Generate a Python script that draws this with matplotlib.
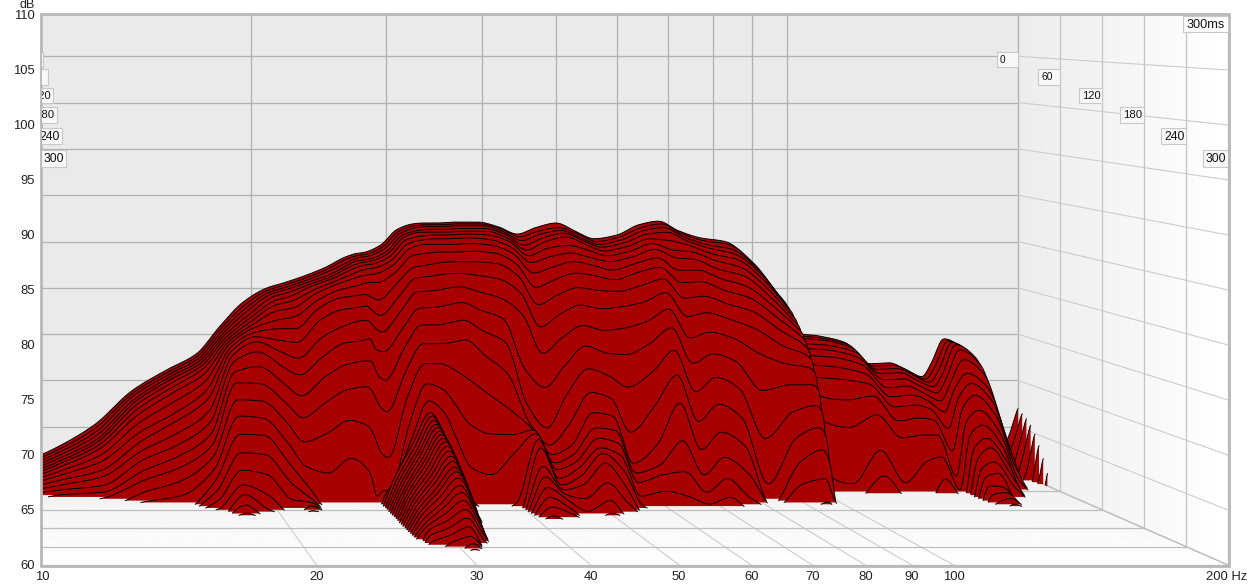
import numpy as np
import matplotlib
matplotlib.use('Agg')
import matplotlib.pyplot as plt
from matplotlib.patches import Polygon, Rectangle

plt.rcParams['font.family'] = ['Liberation Sans', 'DejaVu Sans']

# height above the 60 dB floor, one value per time slice (6 ms apart)
floor_db = 60
slice_ms = 6
rise_10 = [1, .9, .85, .8, .7, .65, .6, .55, .45, .35, .25, .15, .05]
rise_11 = [2.5, 2.4, 2.3, 2.2, 2.1, 2, 1.95, 1.8, 1.6, 1.4, 1.1, .8, .5, .2]
rise_12_5 = [5.2, 5, 4.8, 4.6, 4.4, 4.3, 4.1, 3.9, 3.4, 2.9, 2.2, 1.7, 1, .5, .1]
rise_14 = [8.9, 8.8, 8.7, 8.5, 8.4, 8.2, 7.9, 7.5, 6.8, 6, 5.2, 4.4, 3.6, 2.7, 1.9, .9, .1]
rise_15_5 = [11.1, 11, 10.9, 10.8, 10.7, 10.5, 10.2, 9.8, 9, 8, 7.3, 6.2, 5.2, 4.2, 3.2, 2, .7]
rise_17 = [12.9, 12.8, 12.7, 12.6, 12.5, 12.4, 12.2, 11.8, 11.2, 10.4, 9.6, 8.5, 7.5, 6.5, 5.5, 4.5, 3.4, 2.4, 1.5, .7, .1]
rise_18_2 = [15.8, 15.7, 15.6, 15.5, 15.4, 15.3, 15.2, 15.1, 15, 14.8, 14.6, 14.3, 13.8, 12.9, 11.9, 10.3, 8.8, 7.1, 5.4, 3.8, 2.5, 1.7, .85, .2]
rise_19_5 = [18.4, 18.2, 18, 17.8, 17.5, 17.3, 17.1, 16.9, 16.7, 16.4, 16.1, 15.7, 14.8, 13.4, 11.8, 10.2, 8.6, 7, 5.2, 3.4, 1.5, .2]
rise_21 = [20, 19.9, 19.8, 19.7, 19.5, 19.2, 18.9, 18.4, 17.6, 16.8, 15.7, 14.6, 13.2, 11.6, 9.8, 7.9, 5.9, 4, 2.3, .8]
rise_22 = [20.5, 20.4, 20.3, 20.2, 20, 19.7, 19.3, 18.7, 17.9, 16.8, 15.5, 14, 12.4, 10.4, 8.3, 6, 3.7, 2, 1, .6, .4, .1]
rise_23_5 = [21.3, 21.2, 21.1, 21, 20.9, 20.8, 20.5, 20.2, 19.6, 18.9, 17.8, 16.1, 14.3, 12.3, 9.9, 6.9, 3]
rise_25 = [22.2, 22.1, 22, 21.8, 21.7, 21.6, 21.4, 21.2, 20.7, 20, 18.9, 17.3, 15.7, 13.6, 11.2, 8.2, 4.5]
rise_26_5 = [23.3, 23.2, 23, 22.9, 22.8, 22.6, 22.3, 21.9, 21.2, 20.3, 19.2, 17.9, 16, 14, 11.5, 7.5, 2.8]
rise_26_9 = [23.5, 23.4, 23.3, 23.2, 23, 22.8, 22.5, 22.1, 21.4, 20.4, 19.3, 17.9, 16.2, 14, 10.9, 6.5, .5]
rise_27_4 = [23.7, 23.6, 23.5, 23.3, 23.2, 23, 22.7, 22.2, 21.5, 20.1, 18.8, 17.2, 15, 12.5, 9.5, 4.8, 1.2, .9, .9, .8, .8, .7, .7, .7, .6, .6, .6, .5, .5, .5, .4, .4, .4, .3, .3, .2, .1]
rise_28 = [23.8, 23.7, 23.6, 23.4, 23.3, 23.1, 22.8, 22.3, 21.5, 19.8, 18.3, 16.7, 14.8, 12, 8.9, 4.4, 1.2, 2, 2.8, 2.7, 2.6, 2.5, 2.5, 2.4, 2.4, 2.3, 2.3, 2.2, 2.1, 2, 1.9, 1.8, 1.7, 1.6, 1.4, 1.2, 1.1, .9, .6, .2]
rise_29_5 = [24.6, 24.5, 24.4, 24.2, 24.1, 23.9, 23.6, 23.2, 22.5, 21.5, 20.2, 18.8, 17.1, 15.2, 13, 10.6, 7.9, 6.4, 6.3, 6.1, 5.9, 5.8, 5.7, 5.5, 5.4, 5.3, 5.1, 4.9, 4.7, 4.5, 4.3, 4, 3.8, 3.5, 3.1, 2.8, 2.4, 1.9, 1.4, .9, .4]
rise_31 = [26.3, 26.2, 26.1, 26, 25.9, 25.7, 25.4, 25, 24.3, 23.2, 22.2, 20.9, 19.3, 17.7, 15.9, 14, 12.1, 10.5, 9.5, 9.3, 9, 8.76, 8.6, 8.37, 8.2, 8, 7.8, 7.5, 7.2, 6.85, 6.5, 6.1, 5.8, 5.35, 4.8, 4.3, 3.7, 3, 2.35, 1.7, .95, .45, .1]
rise_32_5 = [26.9, 26.8, 26.7, 26.5, 26.4, 26.1, 25.8, 25.4, 24.6, 23.5, 22.4, 21, 19.4, 17.7, 15.9, 14, 11.5, 9.2, 6.5, 6.3, 6, 5.8, 5.6, 5.4, 5.1, 4.9, 4.6, 4.4, 4.1, 3.8, 3.5, 3.2, 2.9, 2.5, 2, 1.6, 1.1, .6, .1]
rise_33_5 = [27, 26.9, 26.8, 26.6, 26.4, 26.2, 25.9, 25.4, 24.7, 23.7, 22.6, 21.2, 19.6, 17.9, 16, 13.5, 10.2, 6.8, 4, 3.6, 3.2, 2.9, 2.6, 2.3, 2, 1.6, 1.2, .8, .4]
rise_35 = [27, 26.9, 26.8, 26.6, 26.4, 26.2, 25.9, 25.4, 24.7, 23.8, 22.7, 21.4, 19.9, 18.2, 16.3, 12.5, 8, 3.7, .4]
rise_37 = [27.1, 27, 26.9, 26.7, 26.5, 26.3, 26, 25.5, 24.8, 23.8, 22.5, 20.9, 19.1, 17.1, 14.7, 11, 7, 3]
rise_39_5 = [27.1, 27, 26.9, 26.7, 26.5, 26.2, 25.8, 25.3, 24.6, 23.6, 22.1, 20.2, 18.2, 15.9, 12.8, 9.3, 6.9, 5.2, .3]
rise_42 = [26.6, 26.5, 26.3, 26.1, 25.8, 25.5, 25, 24.4, 23.5, 22.3, 20.7, 18.5, 13, 9.5, 7.8, 7.4, 7.4, 7.2, 6.8, 6.1, 4.4, 3.5, 2.6, 1.8, 1, .3]
rise_44_5 = [25.8, 25.6, 25.3, 24.9, 24.5, 24, 23.4, 22.4, 21, 19.3, 17.1, 14.5, 11.1, 7.1, 5.5, 4.7, 4, 3.5, 2.8, 2.3, 2, 1.7, 1.3, .7, .3]
rise_47 = [26.5, 26.2, 26, 25.7, 25.4, 24.8, 24, 23, 21.8, 20.3, 18.4, 16.1, 13.3, 10.5, 7.6, 5.6, 4.9, 4.3, 3.8, 3.2, 2.5, 1.3, .2]
rise_50 = [27, 26.6, 26.4, 26.2, 25.9, 25.1, 24.4, 23.6, 22.5, 21.1, 19.4, 17.4, 15.4, 13.2, 10.9, 9, 7.6, 6.7, 5.9, 5.5, 4.7, 2.9, 1.3, .2]
rise_53 = [26.1, 25.9, 25.6, 25.4, 25.1, 24.6, 23.9, 23.2, 22.2, 20.8, 19, 16.9, 14.7, 12.5, 10.3, 8.6, 7.3, 6.2, 5.1, 3.8, 2.3, .8]
rise_56 = [25.3, 25.1, 24.9, 24.7, 24.4, 24, 23.5, 22.7, 21.8, 20.7, 19.2, 17.1, 14.5, 11.3, 6.8, 3.8, 3, 2.2, 1, .2]
rise_60 = [25.7, 25.6, 25.4, 25.2, 24.9, 24.5, 24, 23.4, 22.6, 21.3, 19.7, 17.8, 15.6, 12.8, 9.5, 5.7, 3.8, 3, 1.5]
rise_64 = [26.8, 26.6, 26.4, 26.1, 25.7, 25.3, 24.8, 24, 23.1, 22, 20.7, 19.1, 17.3, 15.1, 12.7, 10, 6.3, 3.3, 1]
rise_68 = [27.2, 27, 26.7, 26.3, 25.5, 24.6, 23.9, 22.7, 21.5, 20, 18.2, 16.1, 13.6, 10.8, 7.9, 5.2, 2.8, 1.2, .2]
rise_72 = [26.2, 26, 25.7, 25.4, 25, 24.4, 23.7, 22.7, 21.6, 20.2, 18.6, 16.7, 14.6, 12.3, 9.7, 7, 4.6, 2.6, .9]
rise_77 = [25.4, 25.2, 24.9, 24.6, 24.1, 23.5, 22.7, 21.8, 20.7, 19.4, 17.9, 16.1, 13.8, 11.2, 8.3, 5.6, 3, .6]
rise_83 = [25, 24.8, 24.4, 24, 23.5, 22.8, 22, 21, 19.9, 18.6, 16.9, 14.5, 10.8, 6, 1.5]
rise_90 = [22.8, 22.6, 22.2, 21.8, 21.2, 20.5, 19.7, 18.8, 17.8, 16.6, 15.1, 13.4, 11.4, 8.8, 6.3, 3.9, 1.9]
rise_96 = [19.8, 19.6, 19.3, 18.9, 18.5, 17.9, 17.3, 16.7, 16, 15.2, 14.2, 13, 11.4, 9.4, 7.3, 5.2, 2.4, .25]
rise_98 = [18.9, 18.7, 18.4, 18, 17.6, 17.1, 16.5, 15.9, 15.2, 14.4, 13.4, 12.2, 10.6, 8.6, 6.4, 3.9, .6]
rise_100 = [15.3, 15.2, 15, 14.6, 14.2, 13.6, 12.8, 11.6, 9.9, 7.6, 2.5]
rise_110 = [14.8, 14.7, 14.6, 14.2, 13.8, 13.2, 12.3, 11.2, 9.2, 6.5, .8]
rise_119 = [14.1, 14, 13.8, 13.5, 13, 12.4, 11.6, 10.7, 9.6, 7.8, 4.3, 1.8]
rise_128 = [11.8, 11.7, 11.5, 11.2, 10.7, 10, 9.2, 8.3, 7, 5.4, .9]
rise_136 = [11.9, 11.8, 11.6, 11.3, 10.8, 10.2, 9.4, 8.5, 7.3, 5.7, 3.1]
rise_142 = [11.3, 11.2, 11, 10.6, 10.1, 9.5, 8.9, 8.1, 7.1, 5.7, 3.6, 1.5]
rise_150 = [10.4, 10.3, 10.1, 9.8, 9.3, 8.6, 7.6, 6, 3.8, 1.3, .1]
rise_154 = [11.8, 11.6, 11.4, 11.2, 10.9, 10.5, 10, 9.2, 8.2, 7, 5.8, 4.6, 3.7, 2.9, 2.2, 1.5, .8, .1]
rise_160 = [14.5, 14.4, 14.4, 14.3, 13.9, 13, 11.7, 10.8, 9.7, 8.3, 6.9, 5.7, 4.9, 3.6, 2.6, 1.4, 1, .6, .2]
rise_170 = [13.3, 13.2, 13.1, 12.9, 12.4, 11.5, 10.2, 9, 7.6, 6, 4.5, 3.2, 2, .9]
rise_180 = [8.4, 8.2, 7.8, 7.3, 6.7, 5.8, 4.7, 3.5, 2.2, .9]
rise_190 = [2.5, 1.5, .3]
rise_195 = [4.2, 3.6, 2.8, 2, .8]
rise_198 = [6, 5.5, 5, 4.4, 3.4, 2.2, .9]
rise_200 = [7.1, 6.75, 6.4, 5.9, 5.15, 4.15, 3, 1.7]

freqs = [10, 11, 12.5, 14, 15.5, 17, 18.2, 19.5, 21, 22, 23.5, 25, 26.5, 26.9, 27.4, 28, 29.5, 31,
         32.5, 33.5, 35, 37, 39.5, 42, 44.5, 47, 50, 53, 56, 60, 64, 68, 72, 77, 83, 90, 96, 98, 100,
         110, 119, 128, 136, 142, 150, 154, 160, 170, 180, 190, 195, 198, 200]
rises = [rise_10, rise_11, rise_12_5, rise_14, rise_15_5, rise_17, rise_18_2, rise_19_5, rise_21, rise_22,
         rise_23_5, rise_25, rise_26_5, rise_26_9, rise_27_4, rise_28, rise_29_5, rise_31, rise_32_5,
         rise_33_5, rise_35, rise_37, rise_39_5, rise_42, rise_44_5, rise_47, rise_50, rise_53, rise_56,
         rise_60, rise_64, rise_68, rise_72, rise_77, rise_83, rise_90, rise_96, rise_98, rise_100,
         rise_110, rise_119, rise_128, rise_136, rise_142, rise_150, rise_154, rise_160, rise_170,
         rise_180, rise_190, rise_195, rise_198, rise_200]

freq_ticks = [10, 20, 30, 40, 50, 60, 70, 80, 90, 100, 200]
db_ticks = [110, 105, 100, 95, 90, 85, 80, 75, 70, 65, 60]
time_ticks = [0, 60, 120, 180, 240, 300]

DARK_RED = '#A80000'
WALL_TOP = 14
LEFT, RIGHT, BOTTOM = 42, 1228, 565


# the chart's own 3D projection, depth 0 is the back wall and 1 the front
def log_pos(f):
    return np.log10(np.asarray(f, float) / 10) / np.log10(20)


def px_x(f, depth):
    u = log_pos(f)
    back = 20 + 998 * u
    front = 42 + 1186 * u
    return back + (front - back) * depth


def px_y(db, depth):
    scale = 9.26 + (11 - 9.26) * depth
    return 473 + 92 * depth - (np.asarray(db, float) - floor_db) * scale


# monotone cubic so the curves stay round without overshooting the steep sides
def smooth(xs, ys, xnew):
    h = np.diff(xs)
    s = np.diff(ys) / h
    m = np.zeros(len(ys))
    for i in range(1, len(ys) - 1):
        if s[i - 1] * s[i] > 0:
            w1 = 2 * h[i] + h[i - 1]
            w2 = h[i] + 2 * h[i - 1]
            m[i] = (w1 + w2) / (w1 / s[i - 1] + w2 / s[i])
    m[0], m[-1] = s[0], s[-1]
    idx = np.clip(np.searchsorted(xs, xnew) - 1, 0, len(h) - 1)
    t = (xnew - xs[idx]) / h[idx]
    out = ((2 * t**3 - 3 * t**2 + 1) * ys[idx] + (t**3 - 2 * t**2 + t) * h[idx] * m[idx]
           + (-2 * t**3 + 3 * t**2) * ys[idx + 1] + (t**3 - t**2) * h[idx] * m[idx + 1])
    # rounds off what is left of the corners between the read columns
    win = np.hanning(17)
    win /= win.sum()
    return np.convolve(np.pad(out, 8, mode='edge'), win, mode='valid')


fig = plt.figure(figsize=(12.48, 5.86), dpi=100, facecolor='white')
ax = fig.add_axes((0, 0, 1, 1))
ax.axis('off')
ax.set_xlim(0, 1248)
ax.set_ylim(586, 0)

plot_area = Rectangle((LEFT, WALL_TOP), RIGHT - LEFT, BOTTOM - WALL_TOP, transform=ax.transData)

# walls and floor
ax.add_patch(Rectangle((LEFT, WALL_TOP), 1018 - LEFT, 473 - WALL_TOP, fc='#EAEAEA', ec='none', zorder=1))
right_wall = Polygon([(1018, WALL_TOP), (RIGHT, WALL_TOP), (RIGHT, BOTTOM), (1018, 473)], closed=True,
                     transform=ax.transData, fc='none', ec='none')
floor_poly = Polygon([(LEFT, 473), (1018, 473), (RIGHT, BOTTOM), (LEFT, BOTTOM)], closed=True,
                     transform=ax.transData, fc='none', ec='none')
ax.add_patch(right_wall)
ax.add_patch(floor_poly)
im = ax.imshow(np.linspace(0.925, 1, 64).reshape(1, -1), extent=(1018, RIGHT, BOTTOM, WALL_TOP), cmap='gray',
               vmin=0, vmax=1, aspect='auto', zorder=1)
im.set_clip_path(right_wall)
im = ax.imshow(np.linspace(0.935, 1, 64).reshape(-1, 1), extent=(LEFT, RIGHT, BOTTOM, 473), cmap='gray',
               vmin=0, vmax=1, aspect='auto', origin='upper', zorder=1.1)
im.set_clip_path(floor_poly)

# gridlines
for f in freq_ticks[1:]:
    ax.plot([px_x(f, 0)] * 2, [WALL_TOP, 473], color='#B0B0B0', lw=0.9, zorder=2)
    ax.plot([px_x(f, 0), px_x(f, 1)], [473, BOTTOM], color='#CCCCCC', lw=0.8, zorder=2)[0].set_clip_path(plot_area)
for db in db_ticks[1:-1]:
    ax.plot([LEFT, 1018], [px_y(db, 0)] * 2, color='#B0B0B0', lw=0.9, zorder=2)
    ax.plot([1018, RIGHT], [px_y(db, 0), px_y(db, 1)], color='#CCCCCC', lw=0.8, zorder=2)
ax.plot([LEFT, 1018], [473, 473], color='#B0B0B0', lw=0.9, zorder=2)
for t in time_ticks[1:]:
    depth = t / 300
    xt = px_x(200, depth)
    ax.plot([xt, xt], [WALL_TOP, px_y(floor_db, depth)], color='#C4C4C4', lw=0.9, zorder=2)
    ax.plot([LEFT, xt], [px_y(floor_db, depth)] * 2, color='#BEBEBE', lw=0.9, zorder=2)
ax.plot([1018, RIGHT], [473, BOTTOM], color='#BEBEBE', lw=1.0, zorder=2)

# slices, back to front
n_slices = max(len(r) for r in rises)
grid_f = 10 ** np.linspace(1, np.log10(200), 2400)
column_u = log_pos(freqs)
for k in range(n_slices):
    depth = k * slice_ms / 300
    heights = np.array([r[k] if k < len(r) else -0.6 for r in rises])
    h_dense = smooth(column_u, heights, log_pos(grid_f))
    above = h_dense > 0
    edges = np.flatnonzero(np.diff(above.astype(int)))
    starts = list(edges[~above[edges]] + 1)
    stops = list(edges[above[edges]] + 1)
    if above[0]:
        starts.insert(0, 0)
    if above[-1]:
        stops.append(len(above) - 1)
    for a, b in zip(starts, stops):
        xs = px_x(grid_f[a:b + 1], depth)
        ys = px_y(floor_db + h_dense[a:b + 1], depth)
        base = px_y(floor_db, depth)
        pts = np.column_stack([np.r_[xs[0], xs, xs[-1]], np.r_[base, ys, base]])
        body = Polygon(pts, closed=True, fc=DARK_RED, ec='none', zorder=3 + k * 0.01)
        ax.add_patch(body)
        body.set_clip_path(plot_area)
        ax.plot(xs, ys, color='black', lw=0.68, zorder=3 + k * 0.01 + 0.001)[0].set_clip_path(plot_area)

# frame
ax.add_patch(Rectangle((LEFT - 1, WALL_TOP - 0.5), RIGHT - LEFT + 2, BOTTOM - WALL_TOP + 1.5, fc='none',
                       ec='#B8B8B8', lw=2.0, zorder=5))

# axis text
for i, db in enumerate(db_ticks):
    ax.text(35, 16 + i * 55, str(db), ha='right', va='center', fontsize=9.4, color='#222222')
ax.text(35, 5, 'dB', ha='right', va='center', fontsize=9, color='#222222')
for f in freq_ticks[:-1]:
    ax.text(px_x(f, 1), 577, str(f), ha='center', va='center', fontsize=9.4, color='#222222')
ax.text(1247, 577, '200 Hz', ha='right', va='center', fontsize=9.4, color='#222222')

# time boxes
box_right = [1018, 1060, 1102, 1144, 1186, 1228]
box_left = [43, 47.5, 52.5, 56.5, 61.5, 66]
box_top = [52, 69, 88, 107, 128, 150]
box_h = [15, 16, 15, 16, 16, 17]
box_w = [21, 22, 23, 24, 25, 25]
box_font = [7.2, 7.4, 8, 8.2, 8.8, 8.8]
for i, t in enumerate(time_ticks):
    for right in (box_right[i], box_left[i]):
        left = right - box_w[i]
        box = Rectangle((left, box_top[i]), box_w[i], box_h[i], fc='#F8F8F8', ec='#C8C8C8', lw=0.8, zorder=6)
        ax.add_patch(box)
        box.set_clip_path(plot_area)
        txt = ax.text(left + 3, box_top[i] + box_h[i] / 2 + 0.5, str(t), ha='left', va='center',
                      fontsize=box_font[i], color='#111111', zorder=7, clip_on=True)
        txt.set_clip_path(plot_area)
ax.add_patch(Rectangle((1183, 16), 45, 16, fc='white', ec='#C8C8C8', lw=0.8, zorder=6))
ax.text(1205.5, 24.5, '300ms', ha='center', va='center', fontsize=9.2, color='#111111', zorder=7)

ax.set_xlim(0, 1248)
ax.set_ylim(586, 0)
fig.savefig('out.png', dpi=100, facecolor='white')
